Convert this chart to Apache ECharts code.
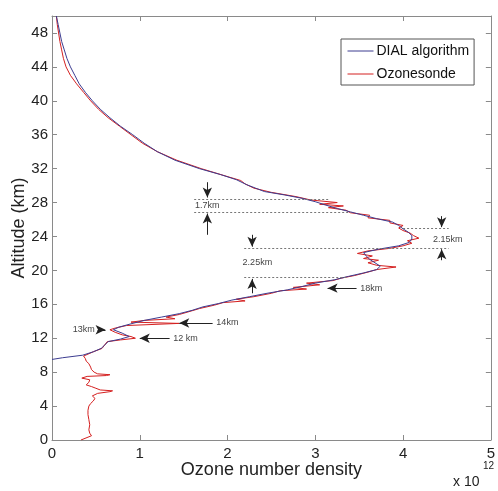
<!DOCTYPE html>
<html>
<head>
<meta charset="utf-8">
<script src="https://cdn.jsdelivr.net/npm/echarts@6/dist/echarts.min.js"></script>
<style>html,body{margin:0;padding:0;background:#fff}#c{width:498px;height:491px}</style>
</head>
<body>
<div id="c"></div>
<script>
// ---- data (density in units of 1e12, altitude in km) ----
var xTicks = [0, 1, 2, 3, 4, 5];
var yTicks = [0, 4, 8, 12, 16, 20, 24, 28, 32, 36, 40, 44, 48];

var dialAlt = [9.5, 9.7, 10.0, 10.4, 10.8, 11.2, 11.6, 11.9, 12.2, 12.6, 13.0, 13.3, 13.7, 14.1, 14.5, 14.9, 15.3, 15.7, 16.1, 16.5, 16.9, 17.3, 17.7, 18.1, 18.5, 18.9, 19.3, 19.7, 20.1, 20.5, 20.9, 21.3, 21.7, 22.1, 22.5, 22.9, 23.3, 23.7, 24.1, 24.5, 24.9, 25.3, 25.7, 26.1, 26.5, 26.9, 27.3, 27.7, 28.1, 28.5, 28.9, 29.3, 29.7, 30.1, 30.7, 31.3, 32, 33, 34, 35, 36, 37, 38, 39, 40, 41, 42, 43, 44, 45, 46, 47, 48, 49, 50];
var dialVal = [0.0, 0.12, 0.35, 0.47, 0.56, 0.6, 0.64, 0.78, 0.88, 0.8, 0.7, 0.76, 0.9, 1.05, 1.25, 1.45, 1.6, 1.72, 1.9, 2.05, 2.25, 2.45, 2.68, 2.85, 3.0, 3.22, 3.38, 3.55, 3.7, 3.74, 3.68, 3.62, 3.58, 3.55, 3.72, 3.95, 4.07, 4.1, 4.1, 4.06, 4.0, 3.95, 3.88, 3.7, 3.55, 3.4, 3.25, 3.12, 3.0, 2.85, 2.65, 2.42, 2.32, 2.22, 2.1, 1.92, 1.68, 1.4, 1.2, 1.05, 0.92, 0.78, 0.66, 0.55, 0.46, 0.38, 0.31, 0.26, 0.21, 0.17, 0.14, 0.11, 0.09, 0.07, 0.05];

var sondeAlt = [0.0, 0.2, 0.5, 0.8, 1.2, 1.8, 2.4, 3.0, 3.5, 4.0, 4.3, 4.6, 4.9, 5.2, 5.5, 5.7, 5.8, 5.9, 6.1, 6.3, 6.5, 6.8, 7.1, 7.3, 7.5, 7.6, 7.7, 7.8, 8.0, 8.3, 8.6, 9.0, 9.3, 9.6, 9.9, 10.1, 10.4, 10.8, 11.2, 11.6, 11.8, 12.0, 12.2, 12.4, 12.7, 13.0, 13.2, 13.5, 13.75, 13.9, 14.1, 14.3, 14.5, 14.8, 15.1, 15.5, 15.9, 16.2, 16.4, 16.6, 16.9, 17.3, 17.6, 17.8, 18.0, 18.3, 18.5, 18.8, 19.1, 19.4, 19.8, 20.1, 20.4, 20.6, 20.9, 21.2, 21.4, 21.7, 22.0, 22.3, 22.6, 22.9, 23.2, 23.5, 23.8, 24.1, 24.4, 24.7, 25.0, 25.3, 25.6, 25.9, 26.2, 26.5, 26.8, 27.1, 27.4, 27.6, 27.8, 28.0, 28.3, 28.7, 29.2, 29.7, 30.2, 30.6, 31.0, 32, 33, 34, 35, 36, 37, 38, 39, 40, 41, 42, 43, 44, 45, 46, 47, 48, 49, 50];
var sondeVal = [0.33, 0.35, 0.45, 0.43, 0.42, 0.43, 0.42, 0.41, 0.41, 0.42, 0.44, 0.47, 0.49, 0.46, 0.52, 0.66, 0.69, 0.55, 0.5, 0.45, 0.39, 0.42, 0.43, 0.34, 0.4, 0.62, 0.66, 0.52, 0.48, 0.45, 0.44, 0.42, 0.39, 0.38, 0.36, 0.38, 0.47, 0.57, 0.6, 0.63, 0.78, 0.95, 0.9, 0.8, 0.72, 0.66, 0.72, 0.85, 1.45, 0.9, 1.05, 1.4, 1.3, 1.45, 1.55, 1.68, 1.85, 1.95, 2.2, 2.1, 2.3, 2.5, 2.6, 2.9, 2.75, 3.05, 2.9, 3.2, 3.3, 3.45, 3.6, 3.7, 3.92, 3.7, 3.6, 3.72, 3.55, 3.65, 3.48, 3.6, 3.85, 4.0, 4.1, 4.05, 4.18, 4.12, 4.08, 4.0, 3.95, 4.0, 3.85, 3.85, 3.6, 3.62, 3.4, 3.35, 3.15, 3.32, 3.05, 3.25, 2.95, 2.78, 2.5, 2.3, 2.2, 2.15, 2.02, 1.7, 1.42, 1.2, 1.03, 0.9, 0.77, 0.64, 0.53, 0.44, 0.36, 0.28, 0.21, 0.16, 0.13, 0.11, 0.09, 0.075, 0.06, 0.05];

// annotations (data coordinates)
var dottedLines = [
  [[1.62, 28.4], [3.15, 28.4]],
  [[1.62, 26.9], [3.4, 26.9]],
  [[2.19, 22.6], [4.52, 22.6]],
  [[2.19, 19.2], [3.35, 19.2]],
  [[4.0, 25.0], [4.52, 25.0]]
];
var arrows = [ // [from, to(head)]
  [[1.77, 30.4], [1.77, 28.6]],
  [[1.77, 24.2], [1.77, 26.7]],
  [[2.28, 24.2], [2.28, 22.8]],
  [[2.28, 17.3], [2.28, 19.0]],
  [[4.44, 26.4], [4.44, 25.1]],
  [[4.44, 21.2], [4.44, 22.5]],
  [[3.47, 17.9], [3.14, 17.9]],
  [[1.83, 13.8], [1.45, 13.8]],
  [[1.34, 12.0], [1.0, 12.0]],
  [[0.52, 13.0], [0.61, 13.0]]
];
var notes = [
  {text: '1.7km', pos: [1.77, 27.6], align: 'center'},
  {text: '2.25km', pos: [2.34, 20.9], align: 'center'},
  {text: '2.15km', pos: [4.51, 23.7], align: 'center'},
  {text: '18km', pos: [3.49, 17.9], align: 'left'},
  {text: '14km', pos: [1.85, 13.8], align: 'left'},
  {text: '12 km', pos: [1.36, 12.0], align: 'left'},
  {text: '13km', pos: [0.51, 13.0], align: 'right'}
];

function pairs(xs, ys) { return ys.map(function (y, i) { return [xs[i], y]; }); }

var chart = echarts.init(document.getElementById('c'), null, {renderer: 'canvas'});
var frame = '#8a8a8a';
var font = 'Liberation Sans, Arial, sans-serif';

var markLineDotted = dottedLines.map(function (l) {
  return [{coord: l[0], symbol: 'none'}, {coord: l[1], symbol: 'none'}];
});
var markLineArrows = arrows.map(function (l) {
  return [{coord: l[0], symbol: 'none'}, {coord: l[1], symbol: 'arrow', symbolSize: [7, 10]}];
});
var markPts = notes.map(function (n) {
  return {
    coord: n.pos, symbol: 'circle', symbolSize: 0,
    label: {show: true, formatter: n.text, position: n.align === 'center' ? 'inside' : (n.align === 'left' ? 'right' : 'left'),
      distance: 2, color: '#444', fontSize: 9, fontFamily: 'Liberation Sans Narrow, Liberation Sans, sans-serif'}
  };
});

chart.setOption({
  animation: false,
  backgroundColor: '#fff',
  grid: {left: 52, right: 6, top: 16, bottom: 51, containLabel: false},
  legend: {
    orient: 'vertical', left: 341, top: 39, width: 133,
    padding: [5, 5, 4, 6], itemGap: 9, itemWidth: 26, itemHeight: 16,
    borderColor: '#555', borderWidth: 1, backgroundColor: '#fff',
    itemStyle: {opacity: 0},
    lineStyle: {width: 1},
    textStyle: {fontSize: 14, fontFamily: font, color: '#111', padding: [0, 0, 0, -2]},
    data: ['DIAL algorithm', 'Ozonesonde']
  },
  xAxis: [{
    type: 'value', min: 0, max: 5, interval: 1, position: 'bottom',
    name: 'Ozone number density', nameLocation: 'middle', nameGap: 21, nameMoveOverlap: false,
    nameTextStyle: {fontSize: 18, fontFamily: font, color: '#222'},
    axisLine: {show: true, onZero: false, lineStyle: {color: frame, width: 1}},
    axisTick: {show: true, inside: true, length: 5, lineStyle: {color: frame}},
    axisLabel: {fontSize: 15, fontFamily: font, color: '#222', margin: 6,
      formatter: function (v) { return xTicks.indexOf(v) >= 0 ? String(v) : ''; }},
    splitLine: {show: false}
  }, {
    type: 'value', min: 0, max: 5, interval: 1, position: 'top',
    axisLine: {show: true, onZero: false, lineStyle: {color: frame, width: 1}},
    axisTick: {show: true, inside: true, length: 5, lineStyle: {color: frame}},
    axisLabel: {show: false}, splitLine: {show: false}
  }],
  yAxis: [{
    type: 'value', min: 0, max: 50, interval: 4, position: 'left',
    name: 'Altitude (km)', nameLocation: 'middle', nameGap: 24, nameRotate: 90, nameMoveOverlap: false,
    nameTextStyle: {fontSize: 18, fontFamily: font, color: '#222'},
    axisLine: {show: true, onZero: false, lineStyle: {color: frame, width: 1}},
    axisTick: {show: true, inside: true, length: 5, lineStyle: {color: frame}},
    axisLabel: {fontSize: 15, fontFamily: font, color: '#222', margin: 4, showMaxLabel: false,
      formatter: function (v) { return yTicks.indexOf(v) >= 0 ? String(v) : ''; }},
    splitLine: {show: false}
  }, {
    type: 'value', min: 0, max: 50, interval: 4, position: 'right',
    axisLine: {show: true, onZero: false, lineStyle: {color: frame, width: 1}},
    axisTick: {show: true, inside: true, length: 5, lineStyle: {color: frame}},
    axisLabel: {show: false}, splitLine: {show: false}
  }],
  graphic: [{
    type: 'text', left: 453, top: 475,
    style: {text: 'x 10', fontSize: 14, fontFamily: font, fill: '#222'}
  }, {
    type: 'text', left: 483, top: 461,
    style: {text: '12', fontSize: 10, fontFamily: font, fill: '#222'}
  }],
  series: [{
    name: 'Ozonesonde', type: 'line', showSymbol: false, symbol: 'none',
    data: pairs(sondeVal, sondeAlt),
    lineStyle: {color: '#d42020', width: 1}, itemStyle: {color: '#d42020'},
    z: 2,
    markLine: {silent: true, symbol: 'none', label: {show: false},
      lineStyle: {color: '#777', type: [2, 2], width: 1}, data: markLineDotted},
    markPoint: {silent: true, data: markPts}
  }, {
    name: 'DIAL algorithm', type: 'line', showSymbol: false, symbol: 'none',
    data: pairs(dialVal, dialAlt),
    lineStyle: {color: '#3c3c90', width: 1}, itemStyle: {color: '#3c3c90'},
    z: 3,
    markLine: {silent: true, label: {show: false},
      lineStyle: {color: '#222', type: 'solid', width: 1}, data: markLineArrows}
  }]
});
</script>
</body>
</html>
